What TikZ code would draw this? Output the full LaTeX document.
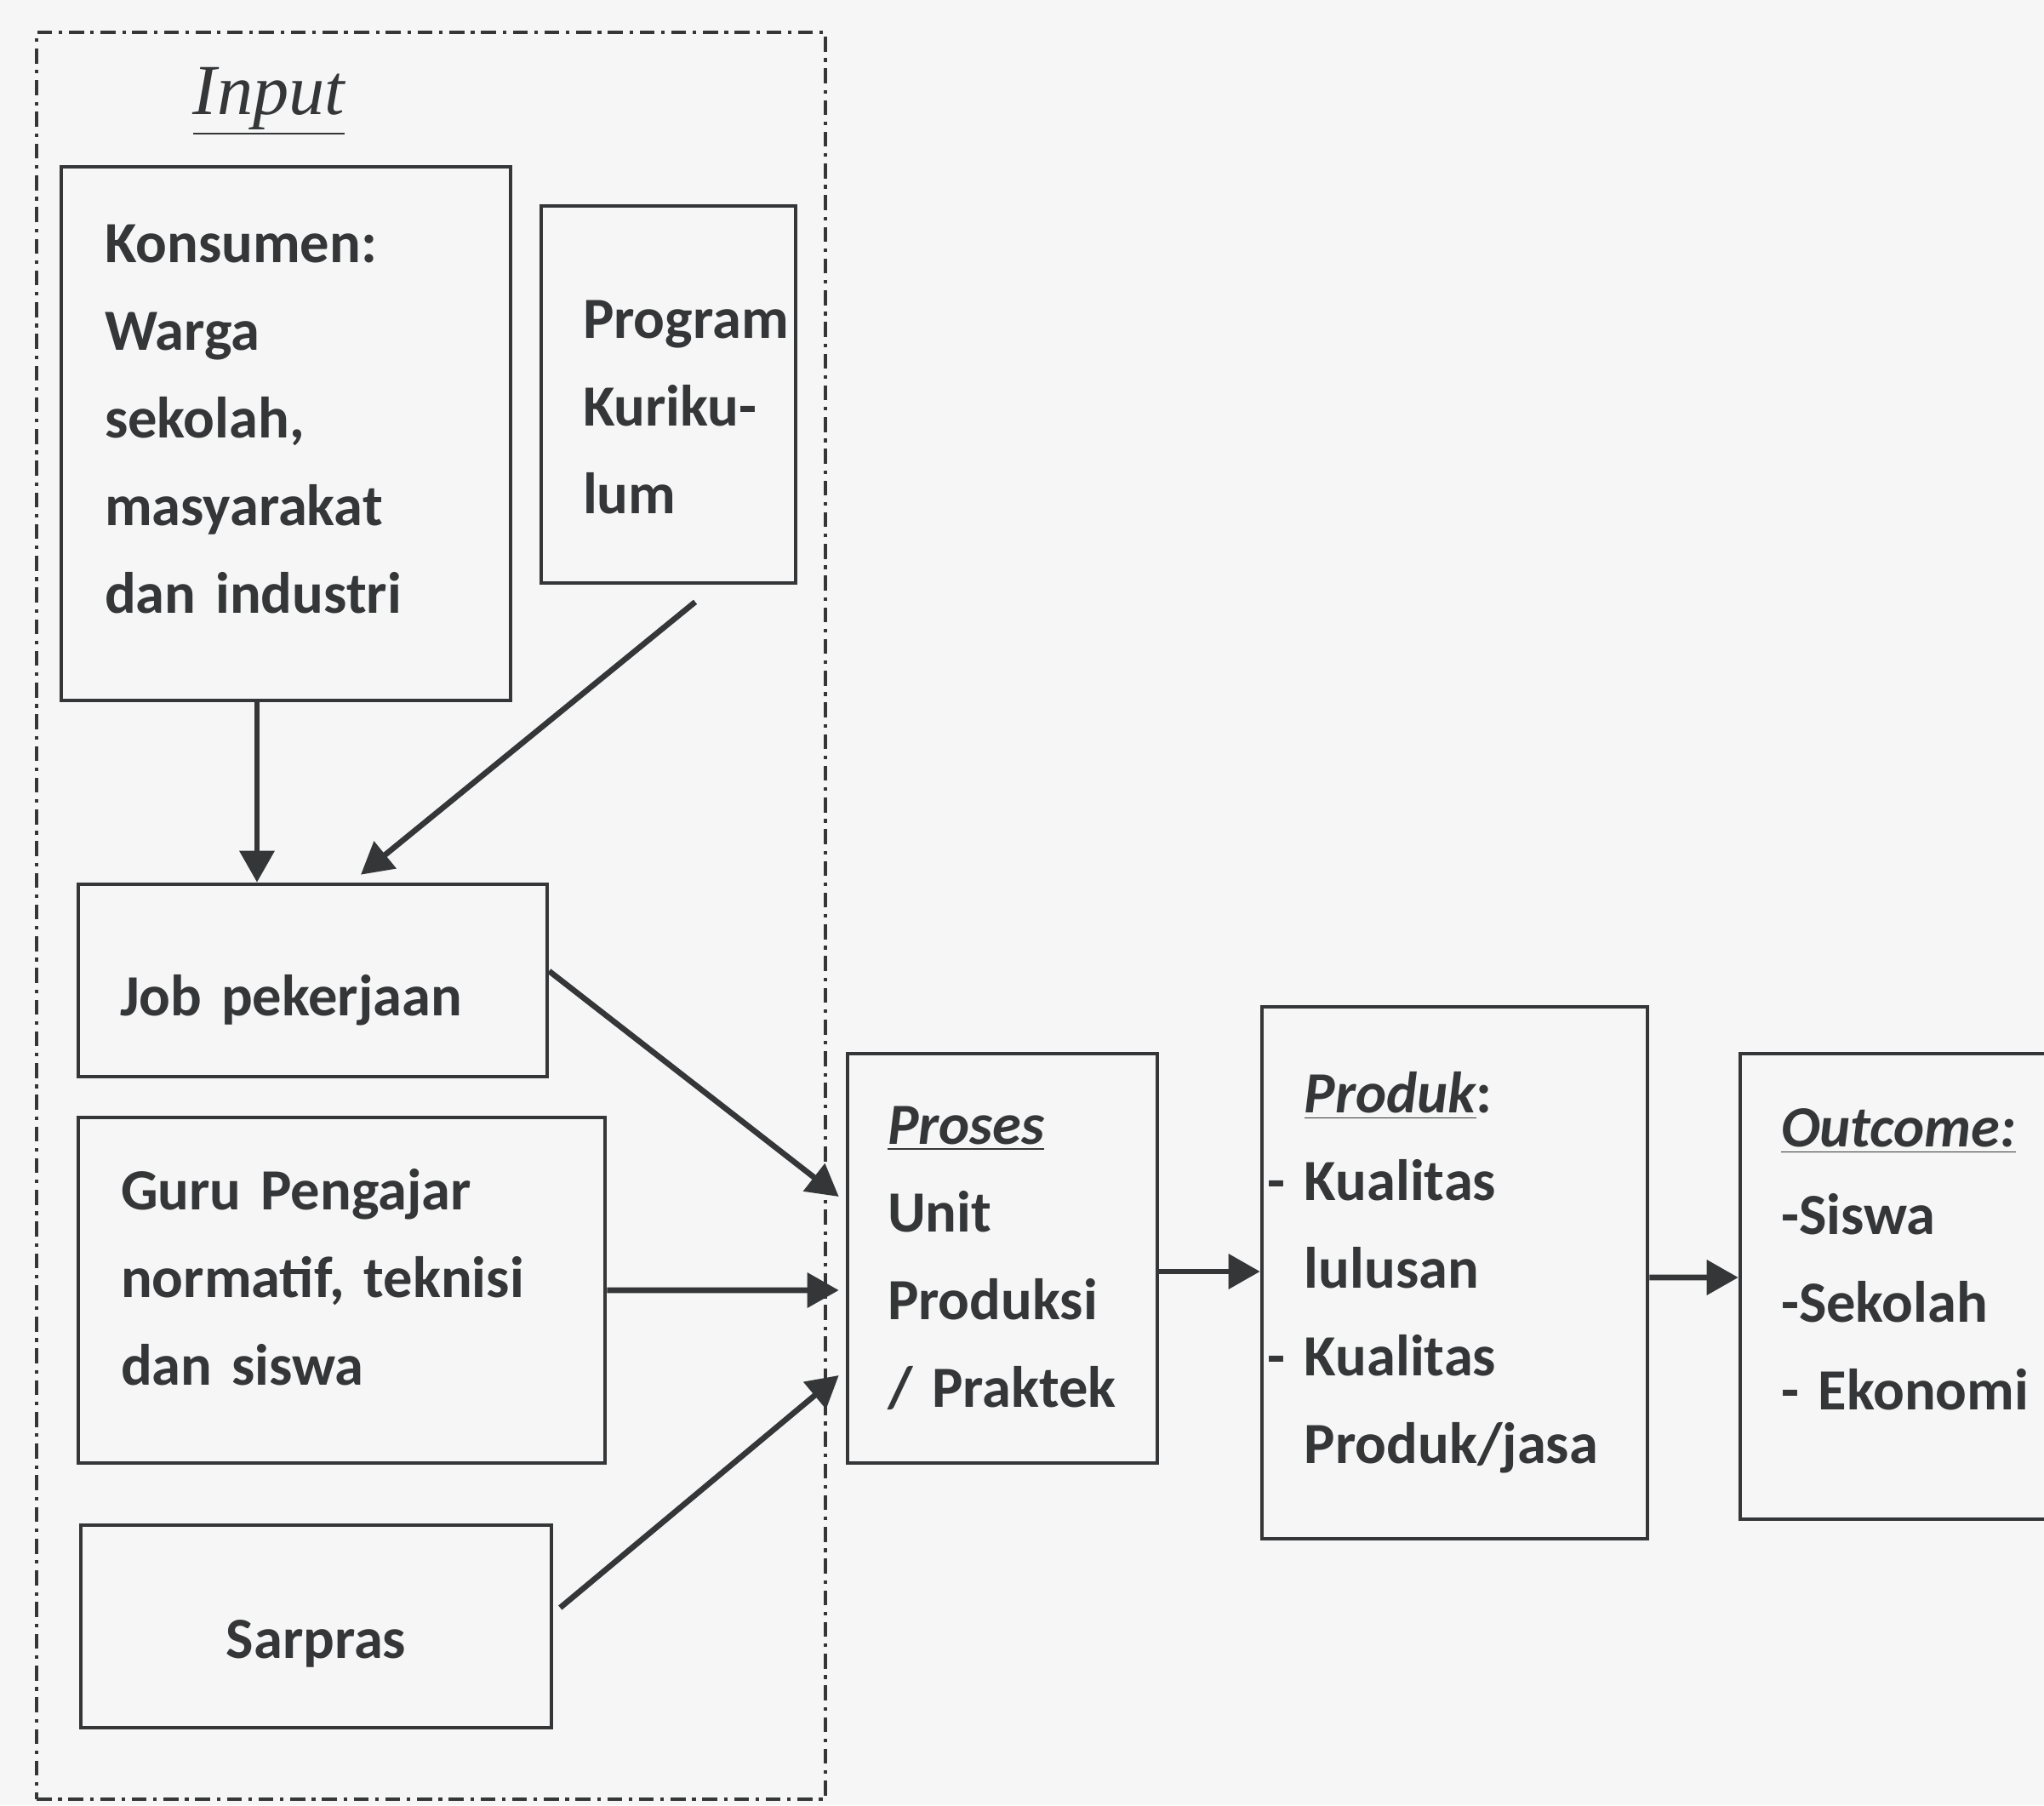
\documentclass[tikz,border=0pt]{standalone}
\usepackage{fontspec}
\setmainfont{Carlito}
\newfontfamily\titlefont{Liberation Serif}
\usepackage{tikz}
\usetikzlibrary{arrows.meta}
\tikzset{
    ukbox/.style={rectangle, draw=inkgray, line width=1.3pt, align=left, text=inkgray, inner ysep=0pt, font=\fontsize{19.5}{29.3}\selectfont\bfseries},
    ukarrow/.style={-{Triangle[length=3.7mm, width=4mm]}, draw=inkgray, line width=1.9pt},
    ukgroup/.style={rectangle, draw=inkgray, line width=0.9pt, inner sep=0pt, dash pattern=on 5pt off 2.2pt on 1.2pt off 2.2pt},
    uktitle/.style={text=inkgray, font=\fontsize{24}{28}\selectfont\titlefont\itshape}
}
\definecolor{inkgray}{RGB}{52,54,56}
\definecolor{paper}{RGB}{245,246,245}

\begin{document}
\begin{tikzpicture}

\clip (0,0) rectangle (24.02,21.21);
\fill[paper] (0,0) rectangle (24.02,21.21);

% input group
\node[ukgroup, minimum width=9.27cm, minimum height=20.76cm] (inbox) at (5.065,10.45) {};
\node[uktitle] (intitle) at (3.16,20.02) {\underline{Input}};

\node[ukbox, minimum width=5.28cm, minimum height=6.27cm, text width=4.26cm, inner xsep=0.51cm, text depth=4.47cm] (kons) at (3.36,16.115)
    {Konsumen:\\Warga\\sekolah,\\masyarakat\\dan industri};
\node[ukbox, minimum width=2.99cm, minimum height=4.43cm, text width=2.01cm, inner xsep=0.49cm, text height=0.75cm] (prog) at (7.855,16.575)
    {\mbox{Program}\\\mbox{Kuriku-}\\lum};
\node[ukbox, minimum width=5.51cm, minimum height=2.26cm, text width=4.53cm, inner xsep=0.49cm, text height=0.94cm] (job) at (3.675,9.69)
    {Job~pekerjaan};
\node[ukbox, minimum width=6.19cm, minimum height=4.06cm, text width=5.19cm, inner xsep=0.5cm, text depth=2.37cm] (guru) at (4.015,6.05)
    {Guru~Pengajar\\normatif,~teknisi\\dan~siswa};
\node[ukbox, align=center, minimum width=5.53cm, minimum height=2.38cm, text width=4.53cm, inner xsep=0.5cm, text height=0.85cm] (sarpras) at (3.715,2.10)
    {Sarpras};

% process chain
\node[ukbox, minimum width=3.64cm, minimum height=4.81cm, text width=2.70cm, inner xsep=0.47cm] (proses) at (11.78,6.425)
    {\underline{\itshape Proses}\\Unit\\Produksi\\/~Praktek};
\node[ukbox, minimum width=4.53cm, minimum height=6.25cm, text width=4.41cm, inner xsep=0.06cm] (produk) at (17.095,6.255)
    {\hphantom{- }\underline{\itshape Produk}:\\-~Kualitas\\\hphantom{- }lulusan\\-~Kualitas\\\hphantom{- }Produk/jasa};
\node[ukbox, minimum width=4.2cm, minimum height=5.47cm, text width=3.24cm, inner xsep=0.48cm, text depth=3.72cm] (outc) at (22.55,6.095)
    {\underline{\itshape Outcome:}\\-Siswa\\-Sekolah\\-~Ekonomi};

\draw[ukarrow] ([xshift=-0.34cm]kons.south) -- ([xshift=-0.655cm]job.north);
\draw[ukarrow] ([xshift=0.315cm,yshift=-0.2cm]prog.south) -- ([xshift=0.565cm,yshift=0.09cm]job.north);
\draw[ukarrow] ([yshift=0.11cm]job.east) -- ([xshift=-0.08cm,yshift=0.725cm]proses.west);
\draw[ukarrow] (guru.east) -- ([xshift=-0.08cm,yshift=-0.375cm]proses.west);
\draw[ukarrow] ([xshift=0.08cm,yshift=0.22cm]sarpras.east) -- ([xshift=-0.08cm,yshift=-1.375cm]proses.west);
\draw[ukarrow] ([yshift=-0.155cm]proses.east) -- ([yshift=0.015cm]produk.west);
\draw[ukarrow] ([yshift=-0.055cm]produk.east) -- ([yshift=0.105cm]outc.west);

\end{tikzpicture}
\end{document}
